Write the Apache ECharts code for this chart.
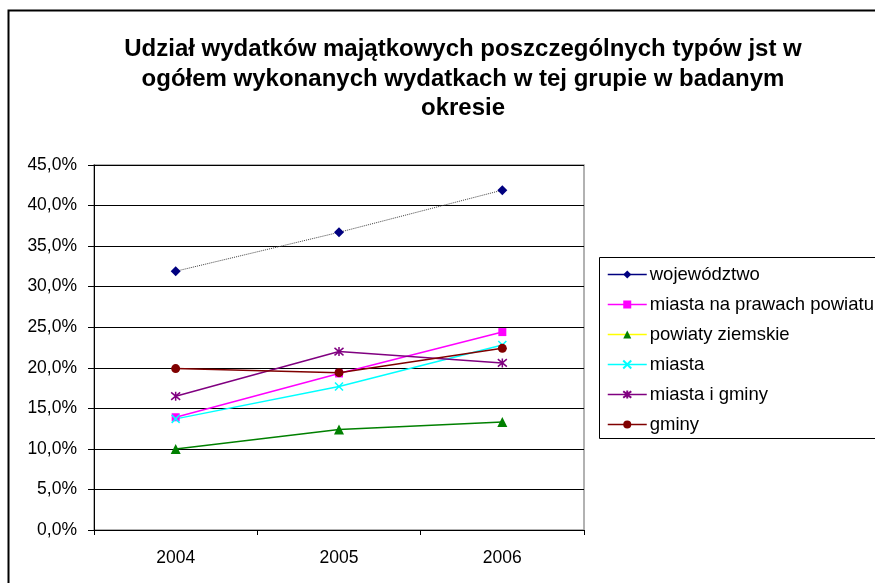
<!DOCTYPE html>
<html>
<head>
<meta charset="utf-8">
<script src="https://cdn.jsdelivr.net/npm/echarts@6/dist/echarts.min.js"></script>
<style>
  html, body { margin: 0; padding: 0; background: #fff; }
  #chart { width: 875px; height: 583px; }
</style>
</head>
<body>
<div id="chart"></div>
<script>
// lata (oś X)
const years = ['2004', '2005', '2006']

// udział wydatków majątkowych, w %
const wojewodztwo = [31.9, 36.7, 41.9]
const miastaNpp = [13.9, 19.3, 24.4]
const powiatyZiemskie = [10.0, 12.4, 13.3]
const miasta = [13.7, 17.7, 22.8]
const miastaIGminy = [16.5, 22.0, 20.6]
const gminy = [19.9, 19.4, 22.4]

const font = 'Liberation Sans, Arial, sans-serif'
const symX = 'path://M0,0L10,10M0,10L10,0'
const symStar = 'path://M0,0L10,10M0,10L10,0M5,-1L5,11'

const chart = echarts.init(document.getElementById('chart'))

const series = [
  {
    name: 'województwo', data: wojewodztwo, symbol: 'diamond', symbolSize: 10,
    itemStyle: { color: '#000080' },
    lineStyle: { color: '#404040', width: 1, type: 'dotted' }
  },
  {
    name: 'miasta na prawach powiatu', data: miastaNpp, symbol: 'rect', symbolSize: 8,
    itemStyle: { color: '#FF00FF' },
    lineStyle: { color: '#FF00FF', width: 1.5 }
  },
  {
    name: 'powiaty ziemskie', data: powiatyZiemskie, symbol: 'triangle', symbolSize: 10,
    itemStyle: { color: '#008000' },
    lineStyle: { color: '#008000', width: 1.5 }
  },
  {
    name: 'miasta', data: miasta, symbol: symX, symbolSize: 8,
    itemStyle: { color: 'none', borderColor: '#00FFFF', borderWidth: 1.5 },
    lineStyle: { color: '#00FFFF', width: 1.5 }
  },
  {
    name: 'miasta i gminy', data: miastaIGminy, symbol: symStar, symbolSize: 9,
    itemStyle: { color: 'none', borderColor: '#800080', borderWidth: 1.5 },
    lineStyle: { color: '#800080', width: 1.5 }
  },
  {
    name: 'gminy', data: gminy, symbol: 'circle', symbolSize: 9,
    itemStyle: { color: '#800000' },
    lineStyle: { color: '#800000', width: 1.5 }
  }
].map(s => Object.assign({ type: 'line', showSymbol: true, animation: false, z: 3 }, s))

// legenda jak w Excelu: linie legendy w kolorach serii
const legendLine = ['#000080', '#FF00FF', '#FFFF00', '#00FFFF', '#800080', '#800000']

const option = {
  animation: false,
  title: {
    text: 'Udział wydatków majątkowych poszczególnych typów jst w\nogółem wykonanych wydatkach w tej grupie w badanym\nokresie',
    left: 458,
    textAlign: 'center',
    top: 30,
    textStyle: { fontFamily: font, fontSize: 24, fontWeight: 'bold', color: '#000', lineHeight: 29.5 }
  },
  graphic: [
    {
      type: 'rect', silent: true,
      shape: { x: 8.5, y: 10.5, width: 900, height: 600 },
      style: { fill: 'none', stroke: '#000', lineWidth: 2 }
    },
    {
      type: 'rect', silent: true,
      shape: { x: 599.5, y: 257.5, width: 300, height: 181 },
      style: { fill: 'none', stroke: '#000', lineWidth: 1 }
    }
  ],
  legend: {
    orient: 'vertical',
    left: 602,
    top: 260,
    itemWidth: 39,
    itemHeight: 10,
    itemGap: 11,
    textStyle: { fontFamily: font, fontSize: 18.5, color: '#000', padding: [0, 0, 0, -2] },
    data: series.map((s, i) => ({
      name: s.name,
      lineStyle: { color: legendLine[i], type: 'solid', width: 1.5 }
    }))
  },
  grid: {
    left: 94, top: 165, right: 291, bottom: 53,
    show: true, borderColor: '#999', borderWidth: 1.5
  },
  xAxis: {
    type: 'category',
    data: years,
    boundaryGap: true,
    axisLine: { lineStyle: { color: '#000', width: 1 } },
    axisTick: { show: true, length: 5, lineStyle: { color: '#000' } },
    axisLabel: { fontFamily: font, fontSize: 17.5, color: '#000', margin: 19 }
  },
  yAxis: {
    type: 'value',
    min: 0, max: 45, interval: 5,
    axisLine: { show: true, lineStyle: { color: '#000', width: 1 } },
    axisTick: { show: true, length: 6, lineStyle: { color: '#000' } },
    axisLabel: {
      fontFamily: font, fontSize: 17.5, color: '#000', margin: 17,
      formatter: v => v.toFixed(1).replace('.', ',') + '%'
    },
    splitLine: { lineStyle: { color: '#000', width: 1 } }
  },
  series: series
}

chart.setOption(option)
</script>
</body>
</html>
